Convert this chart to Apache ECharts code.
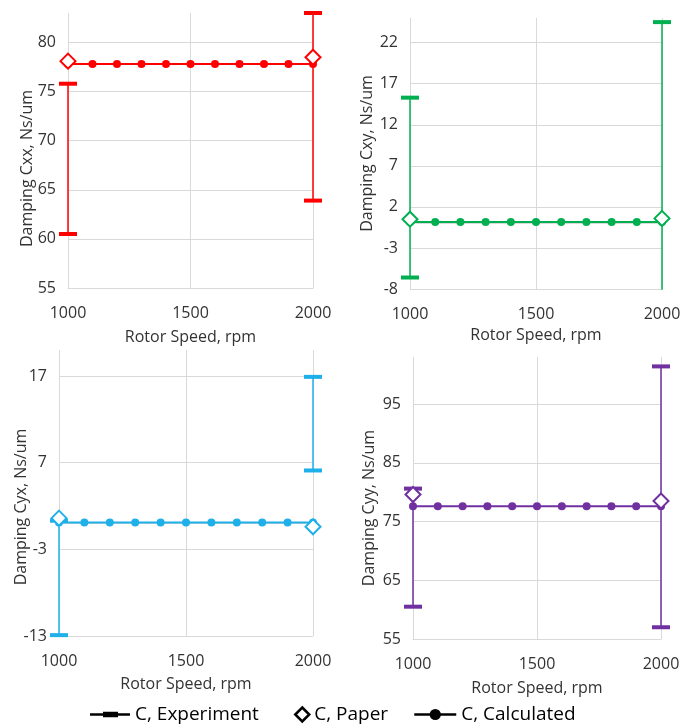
<!DOCTYPE html>
<html>
<head>
<meta charset="utf-8">
<script src="https://cdn.jsdelivr.net/npm/echarts@6/dist/echarts.min.js"></script>
<style>
  html, body { margin: 0; padding: 0; background: #fff; }
  #chart { width: 700px; height: 725px; }
</style>
</head>
<body>
<div id="chart"></div>
<script>
  // rotor speeds
  const speeds = [1000, 1100, 1200, 1300, 1400, 1500, 1600, 1700, 1800, 1900, 2000]
  const expSpeeds = [1000, 2000]

  // Cxx
  const cxxLow = [60.5, 63.9]
  const cxxHigh = [75.8, 83.0]
  const cxxPaper = [78.1, 78.5]
  const cxxCalc = [77.8, 77.8, 77.8, 77.8, 77.8, 77.8, 77.8, 77.8, 77.8, 77.8, 77.8]
  const cxxTicks = [55, 60, 65, 70, 75, 80]

  // Cxy
  const cxyLow = [-6.6, -10.0]
  const cxyHigh = [15.3, 24.5]
  const cxyPaper = [0.5, 0.6]
  const cxyCalc = [0.15, 0.15, 0.15, 0.15, 0.15, 0.15, 0.15, 0.15, 0.15, 0.15, 0.15]
  const cxyTicks = [-8, -3, 2, 7, 12, 17, 22]

  // Cyx
  const cyxLow = [-12.9, 6.1]
  const cyxHigh = [0.3, 16.9]
  const cyxPaper = [0.6, -0.4]
  const cyxCalc = [0.1, 0.1, 0.1, 0.1, 0.1, 0.1, 0.1, 0.1, 0.1, 0.1, 0.1]
  const cyxTicks = [-13, -3, 7, 17]

  // Cyy
  const cyyLow = [60.5, 57.0]
  const cyyHigh = [80.6, 101.4]
  const cyyPaper = [79.6, 78.5]
  const cyyCalc = [77.6, 77.6, 77.6, 77.6, 77.6, 77.6, 77.6, 77.6, 77.6, 77.6, 77.6]
  const cyyTicks = [55, 65, 75, 85, 95]

  const FONT = 'Open Sans'
  const GRID_COLOR = '#d9d9d9'
  const TEXT_COLOR = '#333333'

  const panels = [
    { name: 'Damping Cxx, Ns/um', color: '#ff0000', low: cxxLow, high: cxxHigh, paper: cxxPaper, calc: cxxCalc, ticks: cxxTicks, max: 83,
      grid: { left: 68, top: 13, width: 245, height: 275 }, nameGap: 33, namePad: 36, xNameGap: 41 },
    { name: 'Damping Cxy, Ns/um', color: '#00b050', low: cxyLow, high: cxyHigh, paper: cxyPaper, calc: cxyCalc, ticks: cxyTicks, max: 25,
      grid: { left: 410, top: 18, width: 252, height: 271 }, nameGap: 35, namePad: 0, xNameGap: 38 },
    { name: 'Damping Cyx, Ns/um', color: '#1fb0ea', low: cyxLow, high: cyxHigh, paper: cyxPaper, calc: cyxCalc, ticks: cyxTicks, max: 20,
      grid: { left: 59, top: 350, width: 254, height: 286 }, nameGap: 30, namePad: 28, xNameGap: 40 },
    { name: 'Damping Cyy, Ns/um', color: '#7030a0', low: cyyLow, high: cyyHigh, paper: cyyPaper, calc: cyyCalc, ticks: cyyTicks, max: 103,
      grid: { left: 413, top: 357, width: 248, height: 282 }, nameGap: 36, namePad: 20, xNameGap: 41 }
  ]

  const grids = []
  const xAxes = []
  const yAxes = []
  const series = []

  panels.forEach((p, i) => {
    grids.push(p.grid)
    xAxes.push({
      type: 'value',
      gridIndex: i,
      min: 1000,
      max: 2000,
      interval: 500,
      name: 'Rotor Speed, rpm',
      nameLocation: 'middle',
      nameGap: p.xNameGap,
      nameTextStyle: { fontFamily: FONT, fontSize: 16, color: TEXT_COLOR },
      axisLine: { show: true, lineStyle: { color: GRID_COLOR, width: 1 } },
      axisTick: { show: false },
      axisLabel: { fontFamily: FONT, fontSize: 16, color: TEXT_COLOR, margin: 17, formatter: (v) => String(v) },
      splitLine: { show: true, lineStyle: { color: GRID_COLOR, width: 1 } }
    })
    const step = p.ticks[1] - p.ticks[0]
    yAxes.push({
      type: 'value',
      gridIndex: i,
      min: p.ticks[0],
      max: p.max,
      interval: step,
      name: p.name,
      nameLocation: 'middle',
      nameRotate: 90,
      nameGap: p.nameGap,
      nameMoveOverlap: false,
      nameTextStyle: { fontFamily: FONT, fontSize: 16, color: TEXT_COLOR, padding: [0, p.namePad, 0, 0] },
      axisLine: { show: false },
      axisTick: { show: false },
      axisLabel: {
        fontFamily: FONT, fontSize: 16, color: TEXT_COLOR, margin: 12,
        showMaxLabel: false,
        formatter: (v) => (p.ticks.indexOf(v) >= 0 ? String(v) : '')
      },
      splitLine: { show: true, showMaxLine: false, lineStyle: { color: GRID_COLOR, width: 1 } }
    })

    // error bars: each speed is its own vertical segment, split by a gap
    const expData = []
    expSpeeds.forEach((s, k) => {
      if (k > 0) expData.push([(expSpeeds[k - 1] + s) / 2, '-'])
      expData.push([s, p.low[k]])
      expData.push([s, p.high[k]])
    })
    series.push({
      name: 'C, Experiment',
      type: 'line',
      xAxisIndex: i,
      yAxisIndex: i,
      data: expData,
      connectNulls: false,
      symbol: 'rect',
      symbolSize: [18, 4],
      showAllSymbol: true,
      lineStyle: { color: p.color, width: 1.5 },
      itemStyle: { color: p.color },
      z: 2,
      animation: false
    })
    series.push({
      name: 'C, Calculated',
      type: 'line',
      xAxisIndex: i,
      yAxisIndex: i,
      data: speeds.map((s, k) => [s, p.calc[k]]),
      symbol: 'circle',
      symbolSize: 8,
      showAllSymbol: true,
      lineStyle: { color: p.color, width: 2 },
      itemStyle: { color: p.color },
      z: 3,
      animation: false
    })
    series.push({
      name: 'C, Paper',
      type: 'scatter',
      xAxisIndex: i,
      yAxisIndex: i,
      data: expSpeeds.map((s, k) => [s, p.paper[k]]),
      symbol: 'diamond',
      symbolSize: 15,
      itemStyle: { color: '#ffffff', borderColor: p.color, borderWidth: 2, opacity: 1 },
      z: 4,
      animation: false
    })
  })

  const legendText = { fontFamily: FONT, fontSize: 19, color: '#000' }
  const legends = [
    {
      top: 700, left: 85, itemWidth: 40, itemHeight: 14, textStyle: legendText,
      data: [{ name: 'C, Experiment', icon: 'path://M0,6h13v2.5h-13z M13,4.5h15v5.5h-15z M28,6h12v2.5h-12z', itemStyle: { color: '#000' } }]
    },
    {
      top: 700, left: 289, itemWidth: 14, itemHeight: 14, itemGap: 0, textStyle: legendText,
      data: [{ name: 'C, Paper', icon: 'diamond', itemStyle: { color: '#fff', borderColor: '#000', borderWidth: 2.5 } }]
    },
    {
      top: 700, left: 408, itemWidth: 42, itemHeight: 14, textStyle: legendText,
      data: [{ name: 'C, Calculated', itemStyle: { color: '#000' }, lineStyle: { color: '#000', width: 2.5 } }]
    }
  ]

  const chart = echarts.init(document.getElementById('chart'))
  chart.setOption({
    animation: false,
    grid: grids,
    xAxis: xAxes,
    yAxis: yAxes,
    legend: legends,
    series: series
  })
  window.addEventListener('resize', function() {
    chart.resize()
  })
</script>
</body>
</html>
